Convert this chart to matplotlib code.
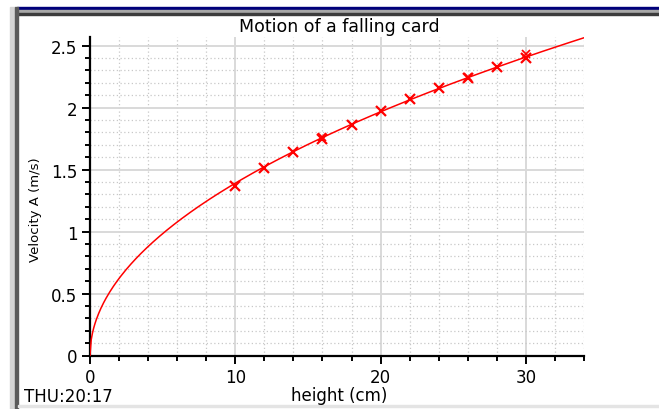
import numpy as np
import matplotlib
matplotlib.use("Agg")
import matplotlib.pyplot as plt
from matplotlib.patches import Rectangle
from matplotlib.ticker import MultipleLocator

# data
height_cm = [10, 12, 14, 16, 18, 20, 22, 24, 26, 28, 30]
velocity = [1.371, 1.512, 1.641, 1.749, 1.856, 1.969, 2.072, 2.158, 2.239, 2.328, 2.403]
# second (overlapping) readings at a few heights
height_cm_2 = [16, 26, 30]
velocity_2 = [1.762, 2.247, 2.430]

title = "Motion of a falling card"
xlabel = "height (cm)"
ylabel = "Velocity A (m/s)"
stamp = "THU:20:17"

# fit v = A * sqrt(h) to the readings
h = np.array(height_cm + height_cm_2, dtype=float)
v = np.array(velocity + velocity_2)
A = np.sum(v * np.sqrt(h)) / np.sum(h)
h_fit = np.linspace(0, 34, 400)
v_fit = A * np.sqrt(h_fit)

fig = plt.figure(figsize=(6.59, 4.10), dpi=100)
W, H = 659, 410

# window frame bits
def px_rect(x0, y0, x1, y1, color):
    fig.patches.append(Rectangle((x0 / W, 1 - y1 / H), (x1 - x0) / W, (y1 - y0) / H,
                                 transform=fig.transFigure, color=color, zorder=0))

px_rect(17, 8, W, 11, "#00007a")
px_rect(17, 11, W, 14, "#a8a8a8")
px_rect(17, 14, W, 16, "#3c3c3c")
px_rect(10, 8, 15, 410, "#d4d4d4")
px_rect(15, 8, 18, 410, "#5a5a5a")
px_rect(18, 406, W, 408, "#e4e4e4")

ax = fig.add_axes([90 / W, 1 - 356.5 / H, (584 - 90) / W, (356.5 - 38) / H])
ax.set_xlim(0, 34)
ax.set_ylim(0, 2.57)

ax.xaxis.set_major_locator(MultipleLocator(10))
ax.xaxis.set_minor_locator(MultipleLocator(2))
ax.yaxis.set_major_locator(MultipleLocator(0.5))
ax.yaxis.set_minor_locator(MultipleLocator(0.1))
ax.yaxis.set_major_formatter(matplotlib.ticker.FuncFormatter(lambda y, p: ("%g" % y)))

ax.grid(which="minor", color="#c8c8c8", linestyle=(0, (1, 2)), linewidth=0.9)
ax.grid(which="major", color="#d9d9d9", linestyle="-", linewidth=1.4)
ax.set_axisbelow(True)

for s in ["top", "right"]:
    ax.spines[s].set_visible(False)
for s in ["left", "bottom"]:
    ax.spines[s].set_linewidth(1.6)
    ax.spines[s].set_color("black")

ax.tick_params(which="major", direction="out", length=6, width=1.4, labelsize=12, pad=3)
ax.tick_params(which="minor", direction="out", length=3.5, width=1.4)

ax.plot(h_fit, v_fit, color="#ff0000", linewidth=1.1, zorder=3)
ax.plot(height_cm, velocity, linestyle="none", marker="x", color="#ff0000",
        markersize=7, markeredgewidth=1.6, zorder=4)
ax.plot(height_cm_2, velocity_2, linestyle="none", marker="x", color="#ff0000",
        markersize=6, markeredgewidth=1.2, zorder=4)

fig.text(339 / W, 1 - 27 / H, title, ha="center", va="center", fontsize=12.5)
fig.text(339 / W, 1 - 396 / H, xlabel, ha="center", va="center", fontsize=12)
fig.text(35 / W, 1 - 210 / H, ylabel, ha="center", va="center", rotation=90, fontsize=9.5)
fig.text(24 / W, 1 - 397 / H, stamp, ha="left", va="center", fontsize=12)

fig.savefig("out.png", dpi=100)
